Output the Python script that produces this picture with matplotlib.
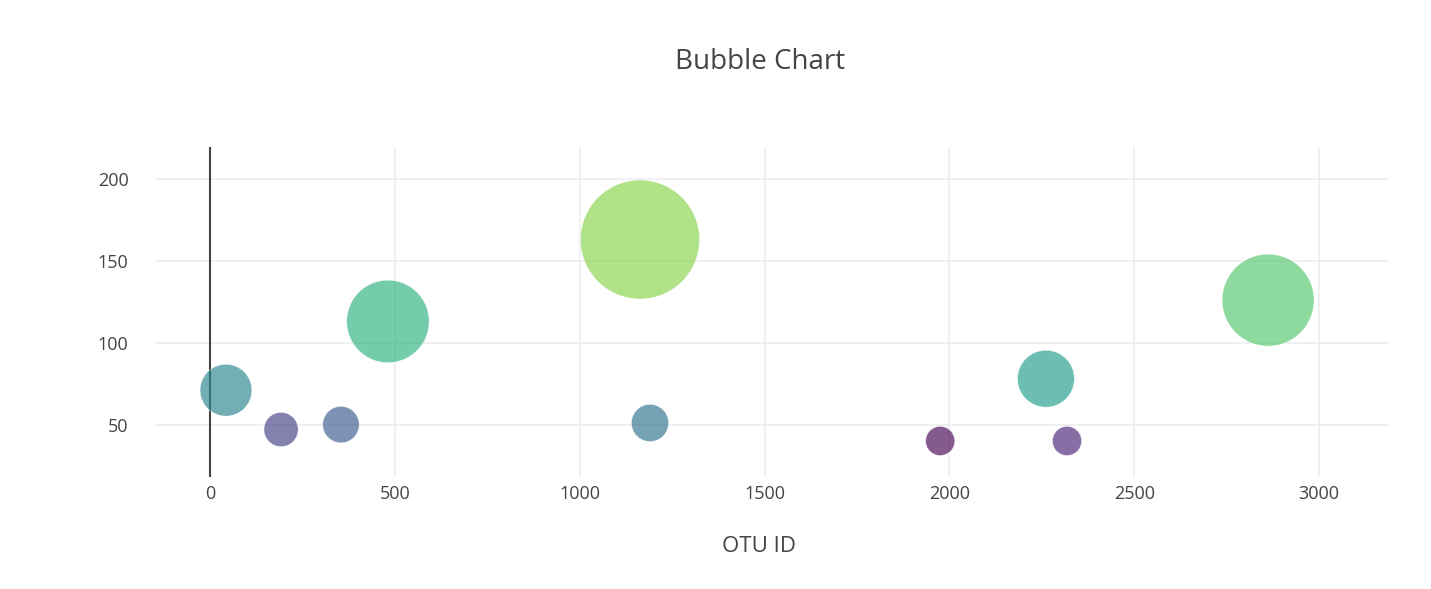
import matplotlib.pyplot as plt
import numpy as np

plt.rcParams['font.family'] = ['Open Sans', 'DejaVu Sans']

otu_ids = [43, 192, 354, 481, 1163, 1190, 1975, 2261, 2318, 2862]
sample_values = [71, 47, 50, 113, 163, 51, 40, 78, 40, 126]

x_ticks = [0, 500, 1000, 1500, 2000, 2500, 3000]
y_ticks = [50, 100, 150, 200]

fig = plt.figure(figsize=(14.31, 5.89), dpi=100)
ax = fig.add_axes([155 / 1431, 112 / 589, 1234 / 1431, 330 / 589])

# plotly-like marker: diameter in px ~ value * 0.73, px -> pt at 100 dpi
px = 72 / 100
sizes = [(v * 0.73 * px) ** 2 for v in sample_values]

# colour follows the rank of the value (ties broken by order)
order = np.argsort(sample_values, kind='stable')
rank = np.empty(len(order))
rank[order] = np.arange(len(order))
cmap = plt.get_cmap('viridis')
cols = [cmap(r / (len(rank) - 1) * 0.82) for r in rank]

ax.scatter(otu_ids, sample_values, s=sizes, c=cols, alpha=0.65,
           edgecolors='white', linewidths=0.5, zorder=3)

ax.axvline(0, color='#444444', lw=1.5, zorder=2)

ax.set_xlim(-149, 3189)
ax.set_ylim(18, 219.5)
ax.set_xticks(x_ticks)
ax.set_yticks(y_ticks)
ax.grid(True, color='#eeeeee', lw=1.2, zorder=0)
ax.set_axisbelow(True)
for s in ax.spines.values():
    s.set_visible(False)
ax.tick_params(length=0, labelsize=13, labelcolor='#444444', pad=6)
ax.tick_params(axis='y', pad=19)

fig.text(759 / 1431, 1 - 547 / 589, 'OTU ID', ha='center', va='center',
         fontsize=16, color='#444444')
fig.text(760 / 1431, 1 - 62 / 589, 'Bubble Chart', ha='center', va='center',
         fontsize=20, color='#444444')

fig.savefig('out.png', dpi=100, facecolor='white')
